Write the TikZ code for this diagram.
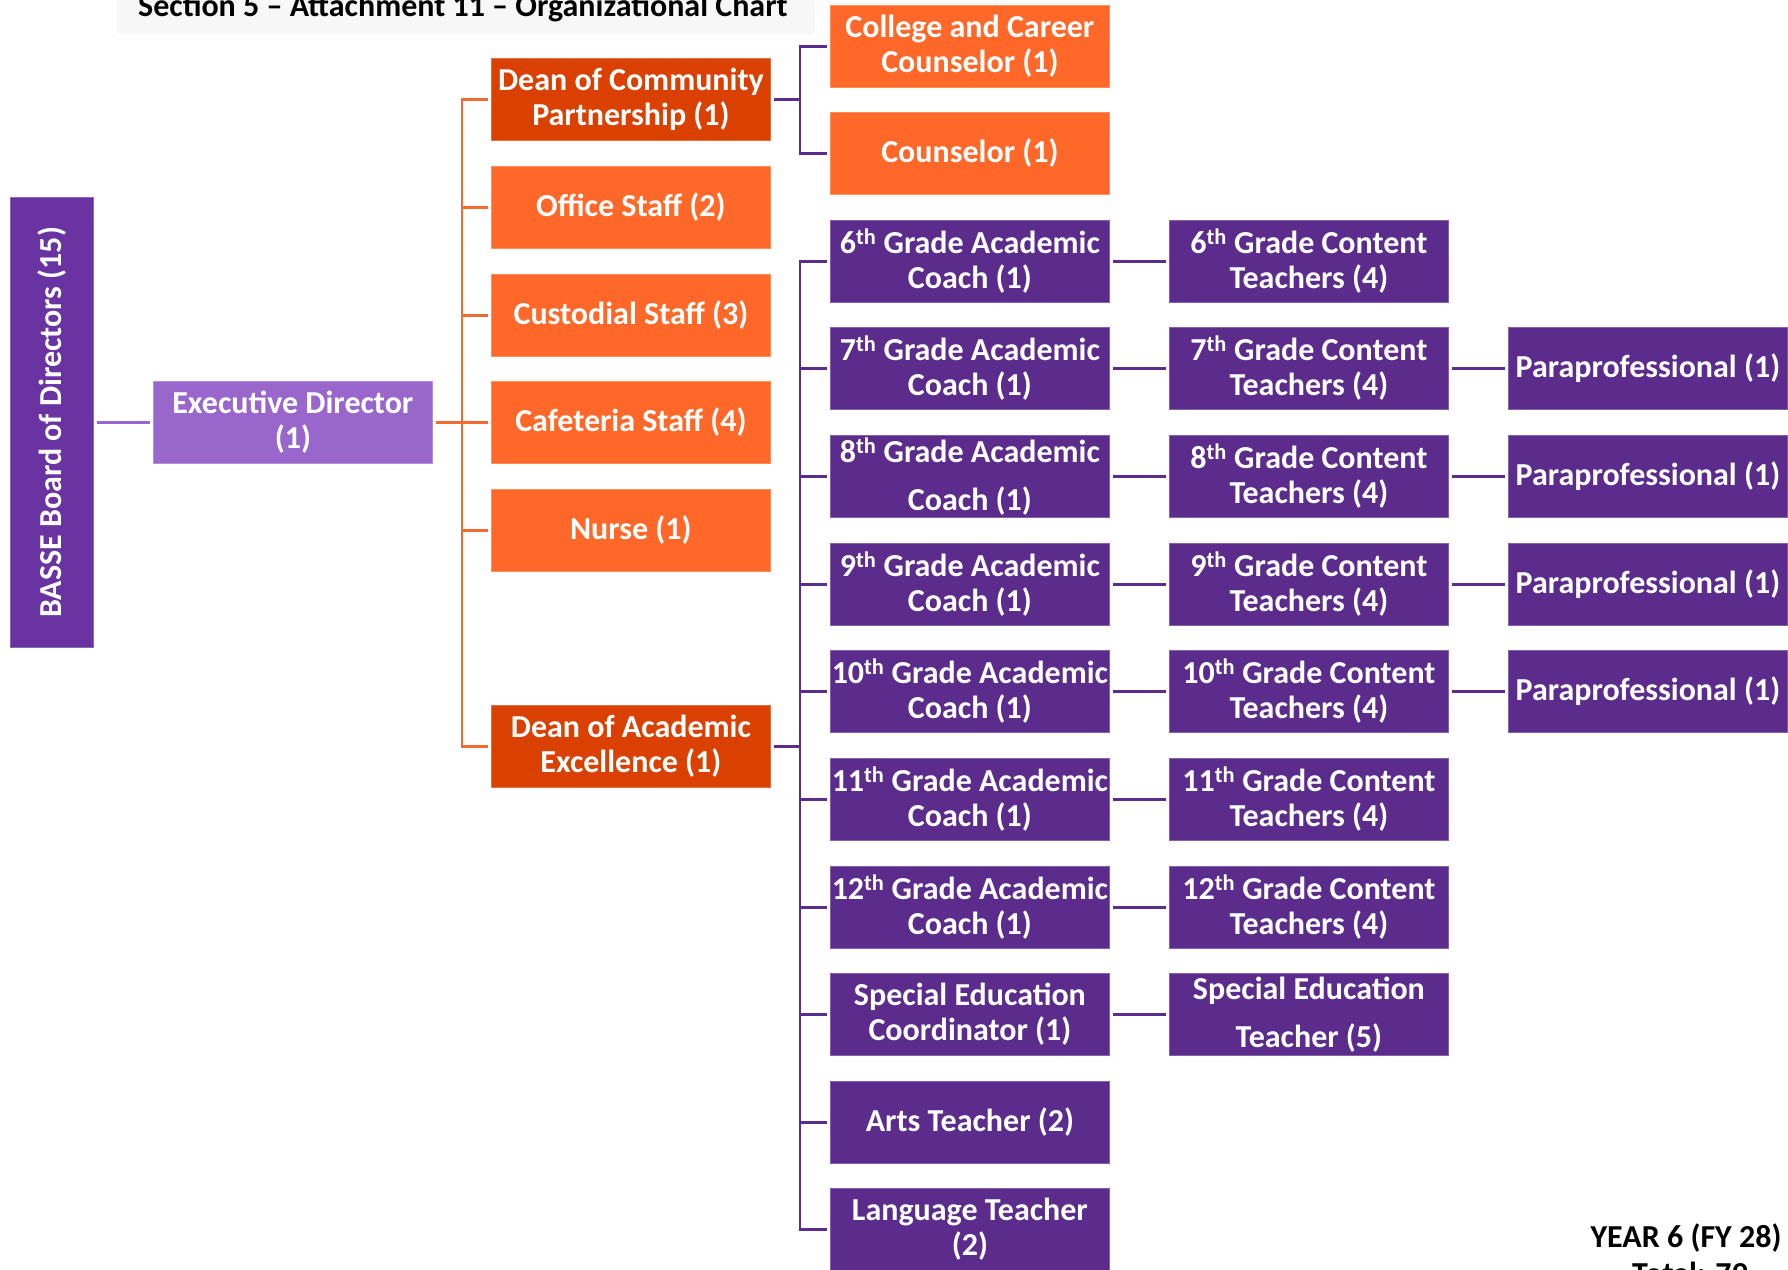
\documentclass[tikz,border=0pt]{standalone}
\usepackage{fontspec}
\setmainfont{Carlito}

% palette of the chart
\definecolor{boardpurple}{HTML}{6933A1}
\definecolor{deeppurple}{HTML}{5B2C8B}
\definecolor{lightpurple}{HTML}{9966CC}
\definecolor{brightorange}{HTML}{FF6828}
\definecolor{darkorange}{HTML}{DA4100}
\definecolor{lineorange}{HTML}{F46A30}
\definecolor{titlegray}{HTML}{F7F7F7}

\newcommand\cellfont{\bfseries\fontsize{32}{35}\selectfont}
\newcommand\headfont{\bfseries\fontsize{32}{37}\selectfont}
\newcommand\ordsup[1]{\textsuperscript{#1}}

\begin{document}
\begin{tikzpicture}[x=1pt,y=-1pt,
  cell/.style={rectangle, anchor=north west, minimum width=279pt, minimum height=82pt,
    inner sep=0pt, align=center, text=white, font=\cellfont, line width=0.8pt},
  pcell/.style={cell, fill=deeppurple, draw=deeppurple!75!white},
  ocell/.style={cell, fill=brightorange, draw=brightorange!75!white},
  dcell/.style={cell, fill=darkorange, draw=darkorange!75!white},
  ecell/.style={cell, fill=lightpurple, draw=lightpurple!75!white},
  boardcell/.style={rectangle, anchor=north west, minimum width=83pt, minimum height=450pt,
    inner sep=0pt, fill=boardpurple, draw=boardpurple!75!white, line width=0.8pt,
    text=white, font=\bfseries\fontsize{32}{38}\selectfont},
  oline/.style={draw=lineorange, line width=2.5pt},
  pline/.style={draw=deeppurple, line width=2.5pt},
  eline/.style={draw=lightpurple, line width=2.5pt}]

\useasboundingbox (0,0) rectangle (1788,1269);

% title strip
\fill[titlegray] (117,-20) rectangle (815,34);
\node[anchor=base west, inner sep=0pt, font=\headfont] (title) at (138,16)
  {Section 5 – Attachment 11 – Organizational Chart};

% board and director
\node[boardcell] (board) at (10,197) {\rotatebox{90}{BASSE Board of Directors (15)}};
\node[ecell] (exec) at (153,381) {Executive Director\\(1)};

% operations column
\node[dcell] (dcp)      at (491,58)  {Dean of Community\\Partnership (1)};
\node[ocell] (office)   at (491,166) {Office Staff (2)};
\node[ocell] (custod)   at (491,274) {Custodial Staff (3)};
\node[ocell] (cafe)     at (491,381) {Cafeteria Staff (4)};
\node[ocell] (nurse)    at (491,489) {Nurse (1)};
\node[dcell] (dae)      at (491,705) {Dean of Academic\\Excellence (1)};

% counseling
\node[ocell] (college)  at (830,5)   {College and Career\\Counselor (1)};
\node[ocell] (couns)    at (830,112) {Counselor (1)};

% academic coaches and staff
\node[pcell] (ac6)  at (830,220)  {6\ordsup{th} Grade Academic\\Coach (1)};
\node[pcell] (ac7)  at (830,327)  {7\ordsup{th} Grade Academic\\Coach (1)};
\node[pcell] (ac8)  at (830,435)  {8\ordsup{th} Grade Academic\\[13pt]Coach (1)};
\node[pcell] (ac9)  at (830,543)  {9\ordsup{th} Grade Academic\\Coach (1)};
\node[pcell] (ac10) at (830,650)  {10\ordsup{th} Grade Academic\\Coach (1)};
\node[pcell] (ac11) at (830,758)  {11\ordsup{th} Grade Academic\\Coach (1)};
\node[pcell] (ac12) at (830,866)  {12\ordsup{th} Grade Academic\\Coach (1)};
\node[pcell] (sped) at (830,973)  {Special Education\\Coordinator (1)};
\node[pcell] (arts) at (830,1081) {Arts Teacher (2)};
\node[pcell] (lang) at (830,1188) {Language Teacher\\(2)};

% content teachers
\node[pcell] (ct6)  at (1169,220) {6\ordsup{th} Grade Content\\Teachers (4)};
\node[pcell] (ct7)  at (1169,327) {7\ordsup{th} Grade Content\\Teachers (4)};
\node[pcell] (ct8)  at (1169,435) {8\ordsup{th} Grade Content\\Teachers (4)};
\node[pcell] (ct9)  at (1169,543) {9\ordsup{th} Grade Content\\Teachers (4)};
\node[pcell] (ct10) at (1169,650) {10\ordsup{th} Grade Content\\Teachers (4)};
\node[pcell] (ct11) at (1169,758) {11\ordsup{th} Grade Content\\Teachers (4)};
\node[pcell] (ct12) at (1169,866) {12\ordsup{th} Grade Content\\Teachers (4)};
\node[pcell] (spt)  at (1169,973) {Special Education\\[13pt]Teacher (5)};

% paraprofessionals
\node[pcell] (pp7)  at (1508,327) {Paraprofessional (1)};
\node[pcell] (pp8)  at (1508,435) {Paraprofessional (1)};
\node[pcell] (pp9)  at (1508,543) {Paraprofessional (1)};
\node[pcell] (pp10) at (1508,650) {Paraprofessional (1)};

% year summary
\node[anchor=base, inner sep=0pt, font=\headfont] (year)  at (1686,1247) {YEAR 6 (FY 28)};
\node[anchor=base, inner sep=0pt, font=\headfont] (total) at (1690,1284) {Total: 79};

% board to director
\draw[eline, shorten <=3pt, shorten >=3pt] (board.east) -- (exec.west);

% director to operations column
\coordinate (obus) at (462,0);
\draw[oline, shorten <=3pt] (exec.east) -- (obus |- exec.east);
\draw[oline] ([xshift=-3pt]dcp.west) -- (obus |- dcp.west) -- (obus |- dae.west) -- ([xshift=-3pt]dae.west);
\foreach \n in {office,custod,cafe,nurse}
  \draw[oline, shorten >=3pt] (obus |- \n.west) -- (\n.west);

% community dean to counselors
\coordinate (cbus) at (800,0);
\draw[pline, shorten <=3pt] (dcp.east) -- (cbus |- dcp.east);
\draw[pline] ([xshift=-3pt]college.west) -- (cbus |- college.west) -- (cbus |- couns.west) -- ([xshift=-3pt]couns.west);

% academic dean to coaches
\draw[pline, shorten <=3pt] (dae.east) -- (cbus |- dae.east);
\draw[pline] ([xshift=-3pt]ac6.west) -- (cbus |- ac6.west) -- (cbus |- lang.west) -- ([xshift=-3pt]lang.west);
\foreach \n in {ac7,ac8,ac9,ac10,ac11,ac12,sped,arts}
  \draw[pline, shorten >=3pt] (cbus |- \n.west) -- (\n.west);

% coaches to content teachers
\foreach \a/\b in {ac6/ct6,ac7/ct7,ac8/ct8,ac9/ct9,ac10/ct10,ac11/ct11,ac12/ct12,sped/spt}
  \draw[pline, shorten <=3pt, shorten >=3pt] (\a.east) -- (\b.west);

% content teachers to paraprofessionals
\foreach \a/\b in {ct7/pp7,ct8/pp8,ct9/pp9,ct10/pp10}
  \draw[pline, shorten <=3pt, shorten >=3pt] (\a.east) -- (\b.west);

\end{tikzpicture}
\end{document}
